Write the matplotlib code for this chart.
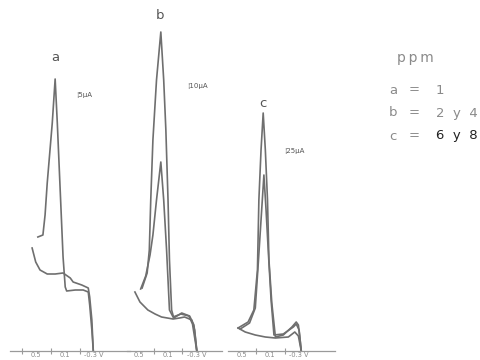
import matplotlib
matplotlib.use("Agg")
import matplotlib.pyplot as plt

# ---------------- data (potential in V, current in chart units) ----------------
# panel a (1 ppm)
a_peak_v = [0.48, 0.41, 0.38, 0.35, 0.28, 0.24, 0.21, 0.17, 0.13, 0.10, 0.08, -0.04, -0.15, -0.22, -0.24, -0.27, -0.29]
a_peak_i = [114, 116, 136, 168, 228, 272, 228, 161, 94, 64, 60, 61, 61, 59, 46, 21, 0]
a_base_v = [0.56, 0.51, 0.45, 0.35, 0.24, 0.13, 0.03, -0.01, -0.13, -0.22, -0.24, -0.27, -0.29]
a_base_i = [103, 89, 81, 77, 77, 78, 73, 69, 66, 63, 54, 31, 0]

# panel b (2 and 4 ppm)
b_high_v = [0.46, 0.39, 0.36, 0.34, 0.31, 0.26, 0.20, 0.16, 0.13, 0.10, 0.08, 0.05, 0.02, -0.09, -0.20, -0.26, -0.30]
b_high_i = [63, 78, 101, 151, 211, 271, 319, 271, 221, 151, 91, 41, 33, 38, 35, 26, 0]
b_low_v = [0.48, 0.41, 0.35, 0.31, 0.26, 0.20, 0.16, 0.12, 0.08, 0.03, -0.08, -0.19, -0.24, -0.30]
b_low_i = [62, 75, 96, 116, 151, 189, 151, 101, 41, 34, 37, 35, 27, 0]
b_base_v = [0.56, 0.49, 0.38, 0.28, 0.19, 0.03, -0.06, -0.13, -0.23, -0.27, -0.30]
b_base_i = [59, 49, 41, 37, 34, 32, 33, 34, 31, 21, 0]

# panel c (6 and 8 ppm)
c_high_v = [0.55, 0.41, 0.33, 0.28, 0.26, 0.23, 0.20, 0.17, 0.14, 0.12, 0.08, 0.03, -0.08, -0.20, -0.26, -0.29, -0.31, -0.33]
c_high_i = [23, 29, 41, 81, 151, 201, 238, 201, 151, 91, 48, 14, 16, 24, 29, 26, 14, 0]
c_low_v = [0.52, 0.39, 0.31, 0.27, 0.23, 0.19, 0.16, 0.13, 0.09, 0.05, -0.08, -0.22, -0.26, -0.30, -0.33]
c_low_i = [22, 28, 43, 86, 131, 176, 141, 101, 51, 16, 17, 24, 27, 21, 0]
c_base_v = [0.55, 0.45, 0.31, 0.17, 0.03, -0.15, -0.24, -0.29, -0.33]
c_base_i = [23, 19, 16, 14, 13, 14, 19, 15, 0]

tick_marks = [0.7, 0.5, 0.3, 0.1, -0.1]
tick_label_pos = [0.5, 0.1, -0.3]
tick_labels = ["0.5", "0.1", "-0.3 V"]

legend_title = "p\u2009p\u2009m"
legend_keys = ["a", "b", "c"]
legend_vals = ["1", "2  y  4", "6  y  8"]

# ---------------- figure ----------------
W, H = 480, 360
fig = plt.figure(figsize=(4.8, 3.6), dpi=100)
fig.patch.set_facecolor("white")

line_col = "#6f6f6f"
text_col = "#8a8a8a"

def px_axes(left, width, bottom=351, top=0):
    return fig.add_axes([left / W, (H - bottom) / H, width / W, (bottom - top) / H])

panels = [
    dict(pos=(9.8, 120.2), xlim=(0.87, -0.80),
         curves=[(a_peak_v, a_peak_i), (a_base_v, a_base_i)],
         label=("a", 0.24, 287), scale=("¦5μA", -0.05, 256), ticks=tick_marks),
    dict(pos=(127, 95), xlim=(0.67, -0.65),
         curves=[(b_high_v, b_high_i), (b_low_v, b_low_i), (b_base_v, b_base_i)],
         label=("b", 0.21, 329), scale=("¦10μA", -0.16, 265), ticks=tick_marks[1:]),
    dict(pos=(228, 107), xlim=(0.69, -0.80),
         curves=[(c_high_v, c_high_i), (c_low_v, c_low_i), (c_base_v, c_base_i)],
         label=("c", 0.21, 241), scale=("¦25μA", -0.09, 200), ticks=tick_marks[1:]),
]

for p in panels:
    ax = px_axes(*p["pos"])
    ax.set_xlim(*p["xlim"])
    ax.set_ylim(0, 351)
    ax.patch.set_alpha(0)
    for s in ["top", "right", "left"]:
        ax.spines[s].set_visible(False)
    ax.spines["bottom"].set_color("#9a9a9a")
    ax.spines["bottom"].set_linewidth(0.9)
    ax.set_yticks([])
    ax.set_xticks(p["ticks"], minor=True)
    ax.set_xticks(tick_label_pos)
    ax.set_xticklabels(tick_labels)
    ax.tick_params(axis="x", which="major", length=0, pad=0.8, labelsize=4.8, labelcolor=text_col)
    ax.tick_params(axis="x", which="minor", direction="inout", length=4, width=0.8, color="#9a9a9a")
    for v, i in p["curves"]:
        ax.plot(v, i, color=line_col, lw=1.2, solid_joinstyle="round", clip_on=False)
    t, x, y = p["label"]
    ax.text(x, y, t, ha="center", va="bottom", fontsize=9.5, color="#555555")
    t, x, y = p["scale"]
    ax.text(x, y, t, ha="left", va="center", fontsize=5, color="#555555")

# legend block
fig.text(397 / W, 1 - 58 / H, legend_title, fontsize=10, color=text_col, ha="left", va="center")
for k, (key, val) in enumerate(zip(legend_keys, legend_vals)):
    y = 1 - (90 + 23 * k) / H
    fig.text(389 / W, y, key, fontsize=9.5, color=text_col, ha="left", va="center")
    fig.text(409 / W, y, "=", fontsize=9.5, color=text_col, ha="left", va="center")
    fig.text(436 / W, y, val, fontsize=9.5, color=("#222222" if k == 2 else text_col),
             ha="left", va="center")

fig.savefig("out.png", dpi=100, facecolor="white")
